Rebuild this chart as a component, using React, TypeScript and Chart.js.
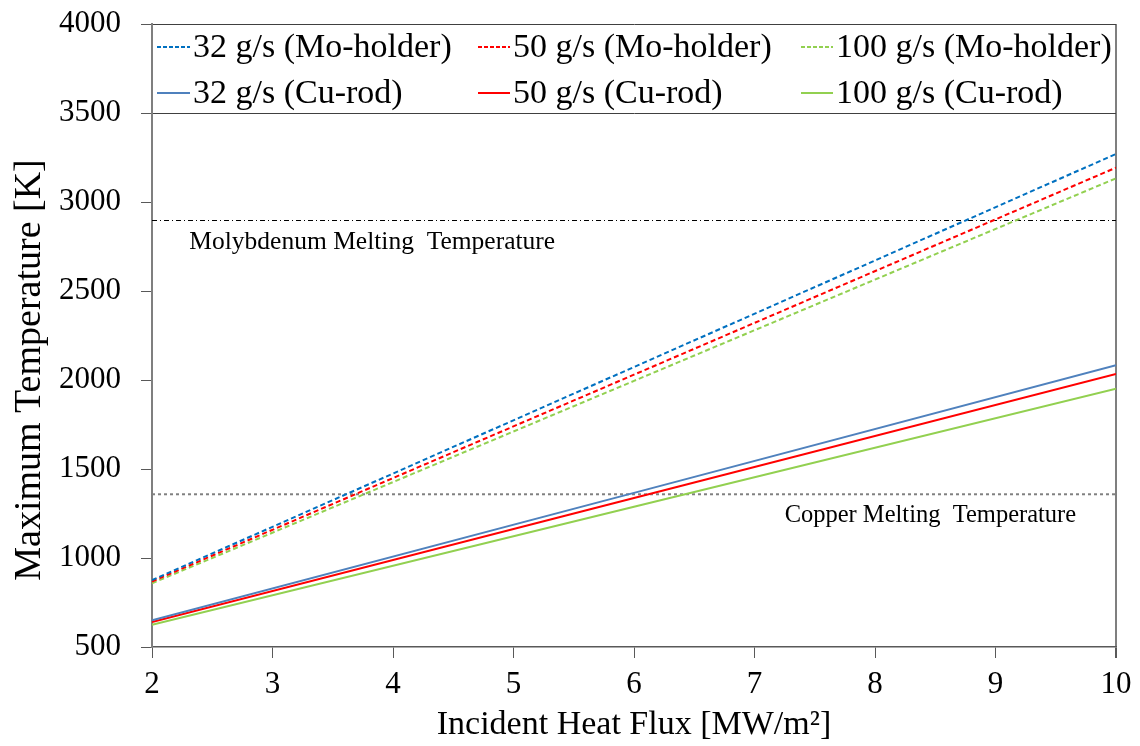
import React, { useEffect, useRef } from "react";
import { Chart, registerables } from "chart.js";

Chart.register(...registerables);

// ---- data ----
const fluxX = [2, 6, 10];
const mo32 = [876, 2073, 3270];
const mo50 = [868, 2030, 3193];
const mo100 = [858, 1995, 3133];
const cu32 = [650, 1366, 2083];
const cu50 = [640, 1337, 2034];
const cu100 = [625, 1288, 1951];
const moMelt = 2896;
const cuMelt = 1358;
const xTickValues = [2, 3, 4, 5, 6, 7, 8, 9, 10];
const yTickValues = [500, 1000, 1500, 2000, 2500, 3000, 3500, 4000];
const seriesLabels = [
  "32 g/s (Mo-holder)",
  "50 g/s (Mo-holder)",
  "100 g/s (Mo-holder)",
  "32 g/s (Cu-rod)",
  "50 g/s (Cu-rod)",
  "100 g/s (Cu-rod)",
];
const moLabel = "Molybdenum Melting  Temperature";
const cuLabel = "Copper Melting  Temperature";
const xTitle = "Incident Heat Flux [MW/m²]";
const yTitle = "Maximum Temperature [K]";

const FONT = "'Liberation Serif', 'Times New Roman', serif";

const pts = (ys: number[]) => fluxX.map((x, i) => ({ x, y: ys[i] }));

export default function App() {
  const ref = useRef<HTMLCanvasElement | null>(null);

  useEffect(() => {
    if (!ref.current) return;
    const colors = ["#0070C0", "#FF0000", "#92D050", "#4F81BD", "#FF0000", "#92D050"];
    const seriesData = [mo32, mo50, mo100, cu32, cu50, cu100];
    const dash = [5, 3];

    const datasets: any[] = seriesData.map((d, i) => ({
      label: seriesLabels[i],
      data: pts(d),
      borderColor: colors[i],
      backgroundColor: colors[i],
      borderWidth: 2,
      borderDash: i < 3 ? dash : [],
      pointRadius: 0,
      tension: 0,
    }));
    datasets.push({
      label: "Mo melt",
      data: [{ x: xTickValues[0], y: moMelt }, { x: xTickValues[xTickValues.length - 1], y: moMelt }],
      borderColor: "#000000",
      borderWidth: 1,
      borderDash: [5, 3, 1, 3],
      pointRadius: 0,
    });
    datasets.push({
      label: "Cu melt",
      data: [{ x: xTickValues[0], y: cuMelt }, { x: xTickValues[xTickValues.length - 1], y: cuMelt }],
      borderColor: "#808080",
      borderWidth: 2,
      borderDash: [3, 3],
      pointRadius: 0,
    });

    const overlay = {
      id: "overlay",
      afterDatasetsDraw(chart: any) {
        const ctx = chart.ctx as CanvasRenderingContext2D;
        const xs = chart.scales.x;
        const ys = chart.scales.y;
        ctx.save();
        // legend
        const cols = [
          [157, 190],
          [478, 510],
          [801, 833],
        ];
        const rows = [47, 93];
        ctx.font = `34px ${FONT}`;
        ctx.textBaseline = "middle";
        ctx.textAlign = "left";
        for (let i = 0; i < 6; i++) {
          const c = cols[i % 3];
          const r = rows[Math.floor(i / 3)];
          ctx.strokeStyle = colors[i];
          ctx.lineWidth = 2;
          ctx.setLineDash(i < 3 ? [4, 2] : []);
          ctx.beginPath();
          ctx.moveTo(c[0], r);
          ctx.lineTo(c[1], r);
          ctx.stroke();
          ctx.setLineDash([]);
          ctx.fillStyle = "#000";
          ctx.fillText(seriesLabels[i], c[1] + 3, r + 1);
        }
        // melting labels
        ctx.font = `25.5px ${FONT}`;
        ctx.fillText(moLabel, xs.getPixelForValue(2.31), ys.getPixelForValue(moMelt) + 22);
        ctx.font = `24.5px ${FONT}`;
        ctx.fillText(cuLabel, xs.getPixelForValue(7.25), ys.getPixelForValue(cuMelt) + 21);
        // y title
        ctx.font = `38px ${FONT}`;
        ctx.textAlign = "center";
        ctx.translate(30, 370);
        ctx.rotate(-Math.PI / 2);
        ctx.fillText(yTitle, 0, 0);
        ctx.restore();
      },
    };

    const chart = new Chart(ref.current, {
      type: "line",
      data: { datasets },
      options: {
        animation: false,
        responsive: true,
        maintainAspectRatio: false,
        layout: { padding: { top: 24, right: 24, left: 0, bottom: 0 } },
        plugins: { legend: { display: false }, tooltip: { enabled: false } },
        scales: {
          x: {
            type: "linear",
            min: 2,
            max: 10,
            afterFit: (s: any) => {
              s.height = 99;
              s.paddingLeft = 0;
              s.paddingRight = 0;
            },
            afterBuildTicks: (s: any) => {
              s.ticks = xTickValues.map((v) => ({ value: v }));
            },
            ticks: {
              font: { family: FONT, size: 31 },
              color: "#000",
              padding: 8,
              maxRotation: 0,
              callback: (v: any) => String(v),
            },
            grid: {
              color: (c: any) => (c.tick && c.tick.value === 10 ? "#7f7f7f" : "rgba(0,0,0,0)"),
              lineWidth: (c: any) => (c.tick && c.tick.value === 10 ? 2 : 1),
              tickColor: "#595959",
              tickLength: 11,
            },
            border: { color: "#595959", width: 1.5 },
            title: {
              display: true,
              text: xTitle,
              font: { family: FONT, size: 34 },
              color: "#000",
              padding: { top: 0, bottom: 1 },
            },
          },
          y: {
            type: "linear",
            min: 500,
            max: 4000,
            afterFit: (s: any) => {
              s.width = 152;
              s.paddingTop = 0;
              s.paddingBottom = 0;
            },
            afterBuildTicks: (s: any) => {
              s.ticks = yTickValues.map((v) => ({ value: v }));
            },
            ticks: {
              font: { family: FONT, size: 31 },
              color: "#000",
              padding: 20,
              callback: (v: any) => String(v),
            },
            grid: {
              color: (c: any) =>
                c.tick && (c.tick.value === 3500 || c.tick.value === 4000) ? "#404040" : "rgba(0,0,0,0)",
              lineWidth: 1,
              tickColor: "#595959",
              tickLength: 11,
            },
            border: { color: "#7f7f7f", width: 2 },
          },
        },
      },
      plugins: [overlay],
    } as any);
    return () => chart.destroy();
  }, []);

  return (
    <div style={{ position: "absolute", left: 0, top: 0, width: 1140, height: 746, background: "#fff" }}>
      <canvas ref={ref} />
    </div>
  );
}
